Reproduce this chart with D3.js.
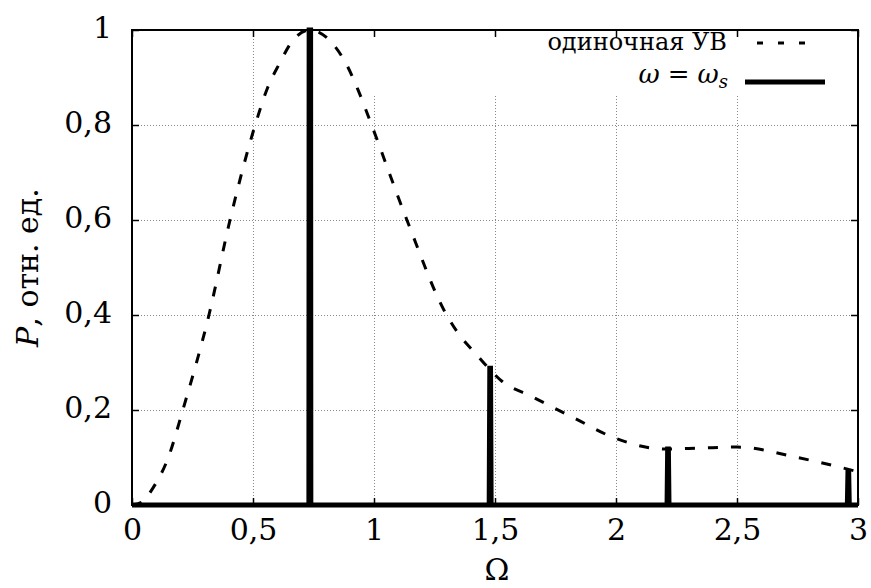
<!DOCTYPE html>
<html>
<head>
<meta charset="utf-8">
<script src="https://cdn.jsdelivr.net/npm/d3@7"></script>
<style>
  body { margin: 0; background: #fff; }
  svg text { font-family: "DejaVu Serif", serif; fill: #000; }
</style>
</head>
<body>
<div id="graph"></div>
<script>
// single shock wave (dashed curve)
const omegaSingle = [0, 0.04, 0.087, 0.15, 0.21, 0.318, 0.405, 0.509, 0.56, 0.61, 0.66, 0.735, 0.826, 0.888, 0.934, 0.99, 1.136, 1.30, 1.347, 1.425, 1.47, 1.53, 1.645, 1.82, 2.0, 2.2, 2.35, 2.5, 2.75, 3.0];
const pSingle = [0, 0.006, 0.036, 0.1, 0.2, 0.4, 0.6, 0.8, 0.878, 0.93, 0.975, 1.0, 0.973, 0.926, 0.874, 0.8, 0.6, 0.4, 0.362, 0.316, 0.29, 0.26, 0.23, 0.185, 0.14, 0.118, 0.12, 0.122, 0.10, 0.07];

// omega = omega_s lines
const omegaSpikes = [0.735, 1.48, 2.215, 2.96];
const pSpikes = [1.0, 0.288, 0.118, 0.07];

const xTicks = [0, 0.5, 1, 1.5, 2, 2.5, 3];
const yTicks = [0, 0.2, 0.4, 0.6, 0.8, 1];

const width = 871, height = 588;
const x = d3.scaleLinear().domain([0, 3]).range([132, 858]);
const y = d3.scaleLinear().domain([0, 1]).range([505, 30]);

const ru = d3.formatLocale({decimal: ",", thousands: " ", grouping: [3], currency: ["", ""]});
const fmt = ru.format("~g");

let svg = d3.select("#graph").append("svg")
    .attr("width", width)
    .attr("height", height);

// grid
const grid = svg.append("g")
    .attr("stroke", "#888")
    .attr("stroke-width", 1)
    .attr("stroke-dasharray", "1,2");
grid.selectAll("line.gx")
    .data(xTicks.filter(d => d > 0 && d < 3))
    .join("line")
    .attr("x1", d => Math.round(x(d)) + 0.5).attr("x2", d => Math.round(x(d)) + 0.5)
    .attr("y1", y(0)).attr("y2", y(1));
grid.selectAll("line.gy")
    .data(yTicks.filter(d => d > 0 && d < 1))
    .join("line")
    .attr("class", "gy")
    .attr("y1", d => Math.round(y(d)) + 0.5).attr("y2", d => Math.round(y(d)) + 0.5)
    .attr("x1", x(0)).attr("x2", x(3));

// opaque key box hides the grid underneath
svg.append("rect")
    .attr("x", 330).attr("y", y(1))
    .attr("width", x(3) - 330).attr("height", 95 - y(1))
    .attr("fill", "#fff");

// axes with inward ticks on all sides
svg.append("g")
    .attr("transform", `translate(0,${y(0)})`)
    .call(d3.axisBottom(x).tickValues(xTicks).tickSize(-7).tickPadding(14).tickFormat(fmt))
    .call(g => g.select(".domain").remove())
    .call(g => g.attr("font-family", null))
    .call(g => g.selectAll("line").attr("stroke-width", 1.5))
    .call(g => g.selectAll("text").attr("font-size", 30).attr("dy", "0.71em"));

svg.append("g")
    .attr("transform", `translate(0,${y(1)})`)
    .call(d3.axisTop(x).tickValues(xTicks).tickSize(-7).tickFormat(""))
    .call(g => g.select(".domain").remove())
    .call(g => g.selectAll("line").attr("stroke-width", 1.5));

svg.append("g")
    .attr("transform", `translate(${x(0)},0)`)
    .call(d3.axisLeft(y).tickValues(yTicks).tickSize(-7).tickPadding(20).tickFormat(fmt))
    .call(g => g.select(".domain").remove())
    .call(g => g.attr("font-family", null))
    .call(g => g.selectAll("line").attr("stroke-width", 1.5))
    .call(g => g.selectAll("text").attr("font-size", 30).attr("dy", "0.25em"));

svg.append("g")
    .attr("transform", `translate(${x(3)},0)`)
    .call(d3.axisRight(y).tickValues(yTicks).tickSize(-7).tickFormat(""))
    .call(g => g.select(".domain").remove())
    .call(g => g.selectAll("line").attr("stroke-width", 1.5));

// frame
svg.append("rect")
    .attr("x", x(0)).attr("y", y(1))
    .attr("width", x(3) - x(0)).attr("height", y(0) - y(1))
    .attr("fill", "none")
    .attr("stroke", "#000")
    .attr("stroke-width", 2);

// dashed curve
const line = d3.line()
    .x(d => x(d[0]))
    .y(d => y(d[1]))
    .curve(d3.curveMonotoneX);

svg.append("path")
    .datum(omegaSingle.map((o, i) => [o, pSingle[i]]))
    .attr("fill", "none")
    .attr("stroke", "#000")
    .attr("stroke-width", 3)
    .attr("stroke-dasharray", "10,13")
    .attr("d", line);

// spikes at omega = omega_s
let spikePts = [[0, 0]];
omegaSpikes.forEach((o, i) => {
  const w = i == 0 ? 0.003 : 0.0015;
  spikePts.push([o - 0.004, 0], [o - w, pSpikes[i]], [o + w, pSpikes[i]], [o + 0.004, 0]);
});
spikePts.push([3, 0]);

svg.append("path")
    .datum(spikePts)
    .attr("fill", "none")
    .attr("stroke", "#000")
    .attr("stroke-width", 5)
    .attr("stroke-linejoin", "miter")
    .attr("d", d3.line().x(d => x(d[0])).y(d => y(d[1])));

// key
const key = svg.append("g");
key.append("text")
    .attr("x", 727).attr("y", 50)
    .attr("text-anchor", "end")
    .attr("font-size", 24)
    .text("одиночная УВ");
key.append("line")
    .attr("x1", 757).attr("x2", 809).attr("y1", 43).attr("y2", 43)
    .attr("stroke", "#000").attr("stroke-width", 3)
    .attr("stroke-dasharray", "6,15");

const k2 = key.append("text")
    .attr("x", 728).attr("y", 83)
    .attr("text-anchor", "end")
    .attr("font-size", 26);
k2.append("tspan").attr("font-style", "italic").text("ω");
k2.append("tspan").attr("dx", 8).text("=");
k2.append("tspan").attr("dx", 8).attr("font-style", "italic").text("ω");
k2.append("tspan").attr("font-style", "italic").attr("font-size", 18).attr("dy", 5).text("s");
key.append("line")
    .attr("x1", 745).attr("x2", 825).attr("y1", 82).attr("y2", 82)
    .attr("stroke", "#000").attr("stroke-width", 5);

// axis labels
svg.append("text")
    .attr("x", (x(0) + x(3)) / 2 + 2).attr("y", 580)
    .attr("text-anchor", "middle")
    .attr("font-size", 30)
    .text("Ω");

const yl = svg.append("text")
    .attr("transform", `translate(38,${(y(0) + y(1)) / 2}) rotate(-90)`)
    .attr("text-anchor", "middle")
    .attr("font-size", 30);
yl.append("tspan").attr("font-style", "italic").text("P");
yl.append("tspan").text(", отн. ед.");
</script>
</body>
</html>
